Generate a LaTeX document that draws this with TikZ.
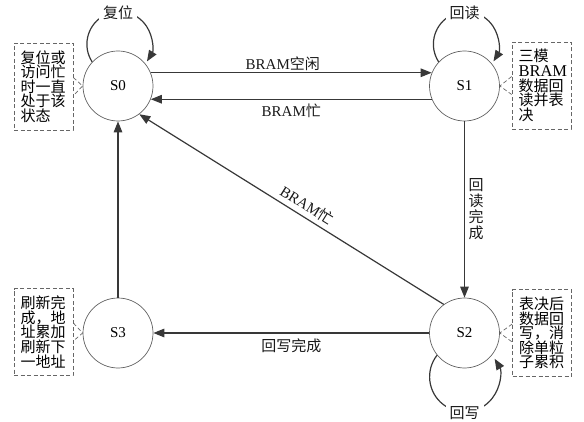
\documentclass[tikz,border=0pt]{standalone}
\usepackage{fontspec}
\setmainfont{Liberation Serif}
\newfontfamily\cjk{Noto Sans CJK SC}
\usetikzlibrary{arrows.meta}
\begin{document}
\begin{tikzpicture}[x=1pt,y=1pt,
  st/.style={circle, draw=black!62, line width=0.7pt, minimum size=70pt, inner sep=0pt, font=\fontsize{15}{16}\selectfont},
  conn/.style={draw=black!78, line width=1.2pt, -{Triangle[length=11pt,width=8.5pt]}},
  lbl/.style={font=\fontsize{15}{16}\selectfont, inner sep=1.5pt, text=black!90},
  zh/.style={font=\fontsize{15}{16}\selectfont\cjk},
  note/.style={draw=black!60, line width=0.7pt, dash pattern=on 4pt off 2.5pt, text width=46pt, inner xsep=6.5pt, minimum height=87pt, align=left, font=\fontsize{15}{14.6}\selectfont\cjk},
  ptr/.style={draw=black!60, line width=0.7pt, dash pattern=on 4pt off 2.5pt}]
\useasboundingbox (0,0) rectangle (584,421);
% states
\node[st] (S0) at (118,335) {S0};
\node[st] (S1) at (464.5,335) {S1};
\node[st] (S2) at (464.5,88) {S2};
\node[st] (S3) at (118,88) {S3};
% transitions
\draw[conn] (S0.22) -- node[lbl, above=0pt, pos=0.47] (e01) {BRAM{\cjk 空闲}} (S1.158);
\draw[conn] (S1.202) -- node[lbl, below=3pt] (e10) {BRAM{\cjk 忙}} (S0.338);
\draw[conn] (S1.south) -- node[lbl, zh, right=2pt, align=center] (e12) {回\\读\\完\\成} (S2.north);
\draw[conn] (S2.126) -- node[lbl, sloped, above=3pt, pos=0.47] (e20) {BRAM{\cjk 忙}} (S0.307);
\draw[conn] (S2.west) -- node[lbl, zh, below=4pt] (e23) {回写完成} (S3.east);
\draw[conn] (S3.north) -- (S0.south);
% self loops
\draw[conn] (S0.137) arc[start angle=213, end angle=-32, radius=32.5];
\node[lbl, zh, fill=white, inner xsep=4pt, inner ysep=1pt] (L0) at ([yshift=73pt]S0.center) {复位};
\draw[conn] (S1.137) arc[start angle=213, end angle=-32, radius=32.5];
\node[lbl, zh, fill=white, inner xsep=4pt, inner ysep=1pt] (L1) at ([yshift=73pt]S1.center) {回读};
\draw[conn] (S2.219) arc[start angle=142, end angle=391, radius=35];
\node[lbl, zh, fill=white, inner xsep=4pt, inner ysep=1pt] (L2) at ([yshift=-80pt]S2.center) {回写};
% notes
\node[note] (N0) at (43.5,334.5) {复位或\\访问忙\\时一直\\处于该\\状态};
\draw[ptr] ([yshift=9pt]N0.east) -- (S0.west) -- ([yshift=-9pt]N0.east);
\node[note] (N1) at (541.5,335.5) {三模\\{\rmfamily\fontsize{16.5}{14.6}\selectfont BRAM}\\数据回\\读并表\\决};
\draw[ptr] ([yshift=9pt]N1.west) -- (S1.east) -- ([yshift=-9pt]N1.west);
\node[note] (N3) at (43.5,89) {刷新完\\成，地\\址累加\\刷新下\\一地址};
\draw[ptr] ([yshift=9pt]N3.east) -- (S3.west) -- ([yshift=-9pt]N3.east);
\node[note] (N2) at (542,88) {表决后\\数据回\\写，消\\除单粒\\子累积};
\draw[ptr] ([yshift=9pt]N2.west) -- (S2.east) -- ([yshift=-9pt]N2.west);
\end{tikzpicture}
\end{document}
